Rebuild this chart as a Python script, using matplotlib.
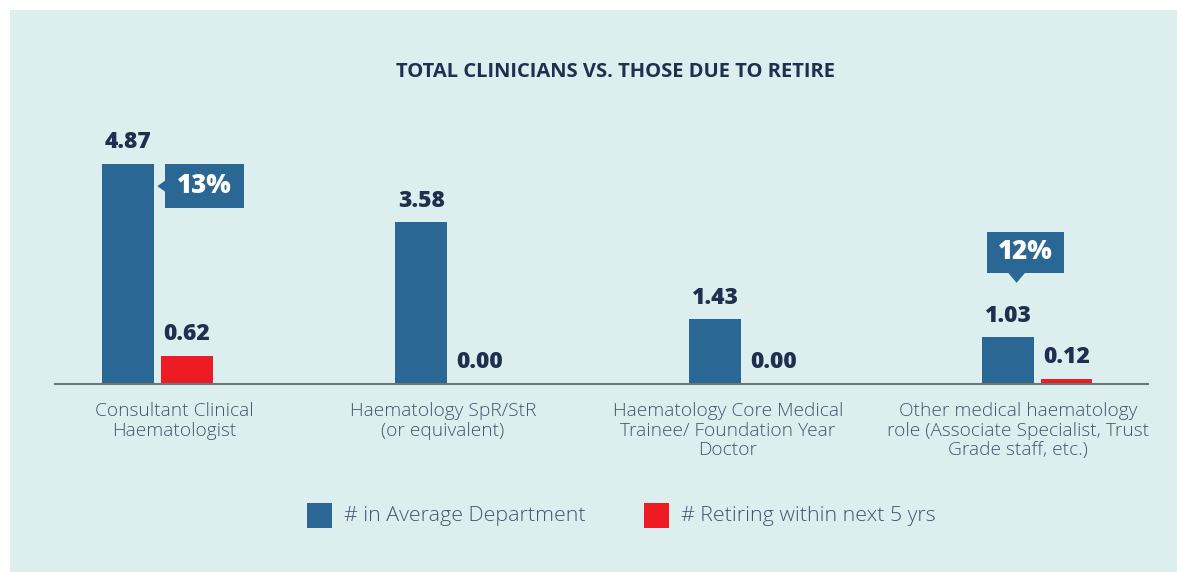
import matplotlib.pyplot as plt
import matplotlib.patches as patches
import numpy as np

# data
categories = [
    "Consultant Clinical\nHaematologist",
    "Haematology SpR/StR\n(or equivalent)",
    "Haematology Core Medical\nTrainee/ Foundation Year\nDoctor",
    "Other medical haematology\nrole (Associate Specialist, Trust\nGrade staff, etc.)",
]
in_department = [4.87, 3.58, 1.43, 1.03]
retiring = [0.62, 0.00, 0.00, 0.12]
series_names = ["# in Average Department", "# Retiring within next 5 yrs"]
title = "TOTAL CLINICIANS VS. THOSE DUE TO RETIRE"

BLUE = "#2b6795"
RED = "#ed1c24"
NAVY = "#1f2f50"
GREYTXT = "#45536f"
PANEL = "#dcefee"

plt.rcParams["font.family"] = ["Open Sans", "DejaVu Sans"]

W, H = 1177, 572
fig = plt.figure(figsize=(W / 100, H / 100), dpi=100, facecolor="white")

# light panel behind everything
fig.add_artist(patches.Rectangle((10 / W, 0), 1 - 10 / W, 1 - 10 / H,
                                 transform=fig.transFigure,
                                 facecolor=PANEL, edgecolor="none", zorder=0))

# axes placed in pixel terms
ax = fig.add_axes([55 / W, (H - 384) / H, 1093 / W, 300 / H])
ax.set_facecolor("none")

x = np.arange(len(categories))
bw = 0.177
off = 0.10
b1 = ax.bar(x - off, in_department, bw, color=BLUE, zorder=2)
b2 = ax.bar(x + off, retiring, bw, color=RED, zorder=2)

for bars, vals in ((b1, in_department), (b2, retiring)):
    for rect, v in zip(bars, vals):
        ax.annotate(f"{v:.2f}", (rect.get_x() + rect.get_width() / 2, v),
                    xytext=(0, 7), textcoords="offset points",
                    ha="center", va="bottom", fontsize=16.5,
                    fontweight=800, color=NAVY)

ax.set_xlim(-0.349, 3.378)
ax.set_ylim(0, 300 / 45.17)
for s in ("top", "left", "right"):
    ax.spines[s].set_visible(False)
ax.spines["bottom"].set_color("#6d7575")
ax.spines["bottom"].set_linewidth(1.5)
ax.set_yticks([])
ax.set_xticks([])

# category labels, nudged like the original layout
label_shift = [0.057, -0.026, -0.054, -0.066]
for xi, name, sh in zip(x, categories, label_shift):
    ax.annotate(name, (xi + sh, 0), xytext=(0, -13), textcoords="offset points",
                ha="center", va="top", fontsize=13.8, color=GREYTXT,
                fontweight="light", linespacing=1.12,
                annotation_clip=False)

# percentage callouts
pct = [round(100 * r / t) for r, t in zip(retiring, in_department)]

# first group: box to the right, arrow pointing left
top = in_department[0]
ax.add_patch(patches.Rectangle((0.026, top - 0.975), 0.27, 0.975,
                               facecolor=BLUE, edgecolor="none", zorder=3))
ax.add_patch(patches.Polygon([(0.0, top - 0.49), (0.028, top - 0.62),
                              (0.028, top - 0.36)], closed=True,
                             facecolor=BLUE, edgecolor="none", zorder=3))
ax.text(0.161, top - 0.49, f"{pct[0]}%", ha="center", va="center",
        fontsize=18.5, fontweight=800, color="white", zorder=4)

# last group: box above, arrow pointing down
ax.add_patch(patches.Rectangle((2.829, 2.46), 0.262, 0.91,
                               facecolor=BLUE, edgecolor="none", zorder=3))
ax.add_patch(patches.Polygon([(2.93, 2.24), (2.90, 2.47), (2.96, 2.47)],
                             closed=True, facecolor=BLUE, edgecolor="none",
                             zorder=3))
ax.text(2.96, 2.915, f"{pct[3]}%", ha="center", va="center",
        fontsize=18.5, fontweight=800, color="white", zorder=4)

# title
fig.text(615 / W, 1 - 72 / H, title, ha="center", va="center",
         fontsize=14.5, fontweight="bold", color=NAVY)

# legend drawn by hand
for (lx, tx), col, name in zip([(307, 344), (644, 681)], [BLUE, RED], series_names):
    fig.add_artist(patches.Rectangle((lx / W, 1 - 528 / H), 25 / W, 25 / H,
                                     transform=fig.transFigure,
                                     facecolor=col, edgecolor="none"))
    fig.text(tx / W, 1 - 516 / H, name, ha="left", va="center",
             fontsize=15.4, fontweight="light", color=GREYTXT)

fig.savefig("out.png", dpi=100, facecolor="white")
